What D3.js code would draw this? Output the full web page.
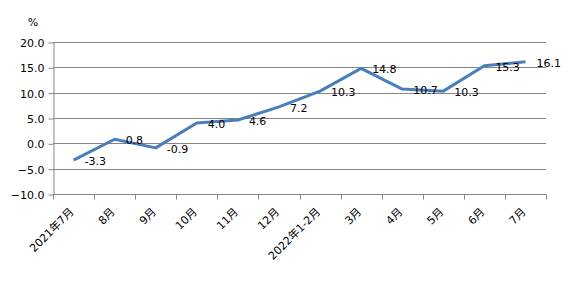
<!DOCTYPE html>
<html>
<head>
<meta charset="utf-8">
<script src="https://cdn.jsdelivr.net/npm/d3@7"></script>
<style>
  body { margin: 0; background: #fff; }
  svg text { font-family: "DejaVu Sans", "Noto Sans CJK SC", sans-serif; font-size: 11px; fill: #000; }
</style>
</head>
<body>
<div id="chart"></div>
<script>
// months along the x axis
const categories = ['2021年7月', '8月', '9月', '10月', '11月', '12月', '2022年1-2月', '3月', '4月', '5月', '6月', '7月'];
// growth rate, %
const values = [-3.3, 0.8, -0.9, 4.0, 4.6, 7.2, 10.3, 14.8, 10.7, 10.3, 15.3, 16.1];
const yTicks = [-10, -5, 0, 5, 10, 15, 20];

const width = 575, height = 281;
const margin = { top: 42, right: 29, bottom: 87, left: 53 };

const svg = d3.select('#chart').append('svg')
    .attr('width', width)
    .attr('height', height);

const x = d3.scaleBand()
    .domain(categories)
    .range([margin.left, width - margin.right]);

const y = d3.scaleLinear()
    .domain([-10, 20])
    .range([height - margin.bottom, margin.top]);

// horizontal gridlines
svg.append('g')
    .selectAll('line')
    .data(yTicks)
    .enter().append('line')
    .attr('x1', margin.left)
    .attr('x2', width - margin.right)
    .attr('y1', d => Math.round(y(d)) + 0.5)
    .attr('y2', d => Math.round(y(d)) + 0.5)
    .attr('stroke', '#868686')
    .attr('stroke-width', 1);

// y axis
const yAxis = svg.append('g')
    .attr('transform', 'translate(' + (margin.left + 0.5) + ',0.5)')
    .call(d3.axisLeft(y).tickValues(yTicks).tickSize(5).tickSizeOuter(0).tickFormat(d3.format('.1f')));
yAxis.select('.domain').attr('stroke', '#868686');
yAxis.selectAll('.tick line').attr('stroke', '#868686');
yAxis.selectAll('.tick text').attr('x', -9).attr('dy', '0.35em');

svg.append('text')
    .attr('x', 33)
    .attr('y', 26)
    .attr('text-anchor', 'middle')
    .text('%');

// x axis along the bottom (-10)
const xTickPos = categories.map(c => x(c)).concat([x.range()[1]]);
const bottomY = Math.round(y(-10)) + 0.5;
svg.append('g')
    .selectAll('line')
    .data(xTickPos)
    .enter().append('line')
    .attr('x1', d => Math.round(d) + 0.5)
    .attr('x2', d => Math.round(d) + 0.5)
    .attr('y1', bottomY)
    .attr('y2', bottomY + 5)
    .attr('stroke', '#868686');

svg.append('g')
    .selectAll('text')
    .data(categories)
    .enter().append('text')
    .attr('text-anchor', 'end')
    .attr('transform', d => 'translate(' + (x(d) + x.bandwidth() / 2 + 1) + ',' + (bottomY + 18) + ') rotate(-45)')
    .text(d => d);

// the line
const line = d3.line()
    .x((d, i) => x(categories[i]) + x.bandwidth() / 2)
    .y(d => y(d));

svg.append('path')
    .datum(values)
    .attr('d', line)
    .attr('fill', 'none')
    .attr('stroke', '#4a7ebb')
    .attr('stroke-width', 3)
    .attr('stroke-linejoin', 'round');

// data labels, right of each point
svg.append('g')
    .selectAll('text')
    .data(values)
    .enter().append('text')
    .attr('x', (d, i) => x(categories[i]) + x.bandwidth() / 2 + 11)
    .attr('y', d => y(d) + 1)
    .attr('dy', '0.35em')
    .text(d => d.toFixed(1));
</script>
</body>
</html>
